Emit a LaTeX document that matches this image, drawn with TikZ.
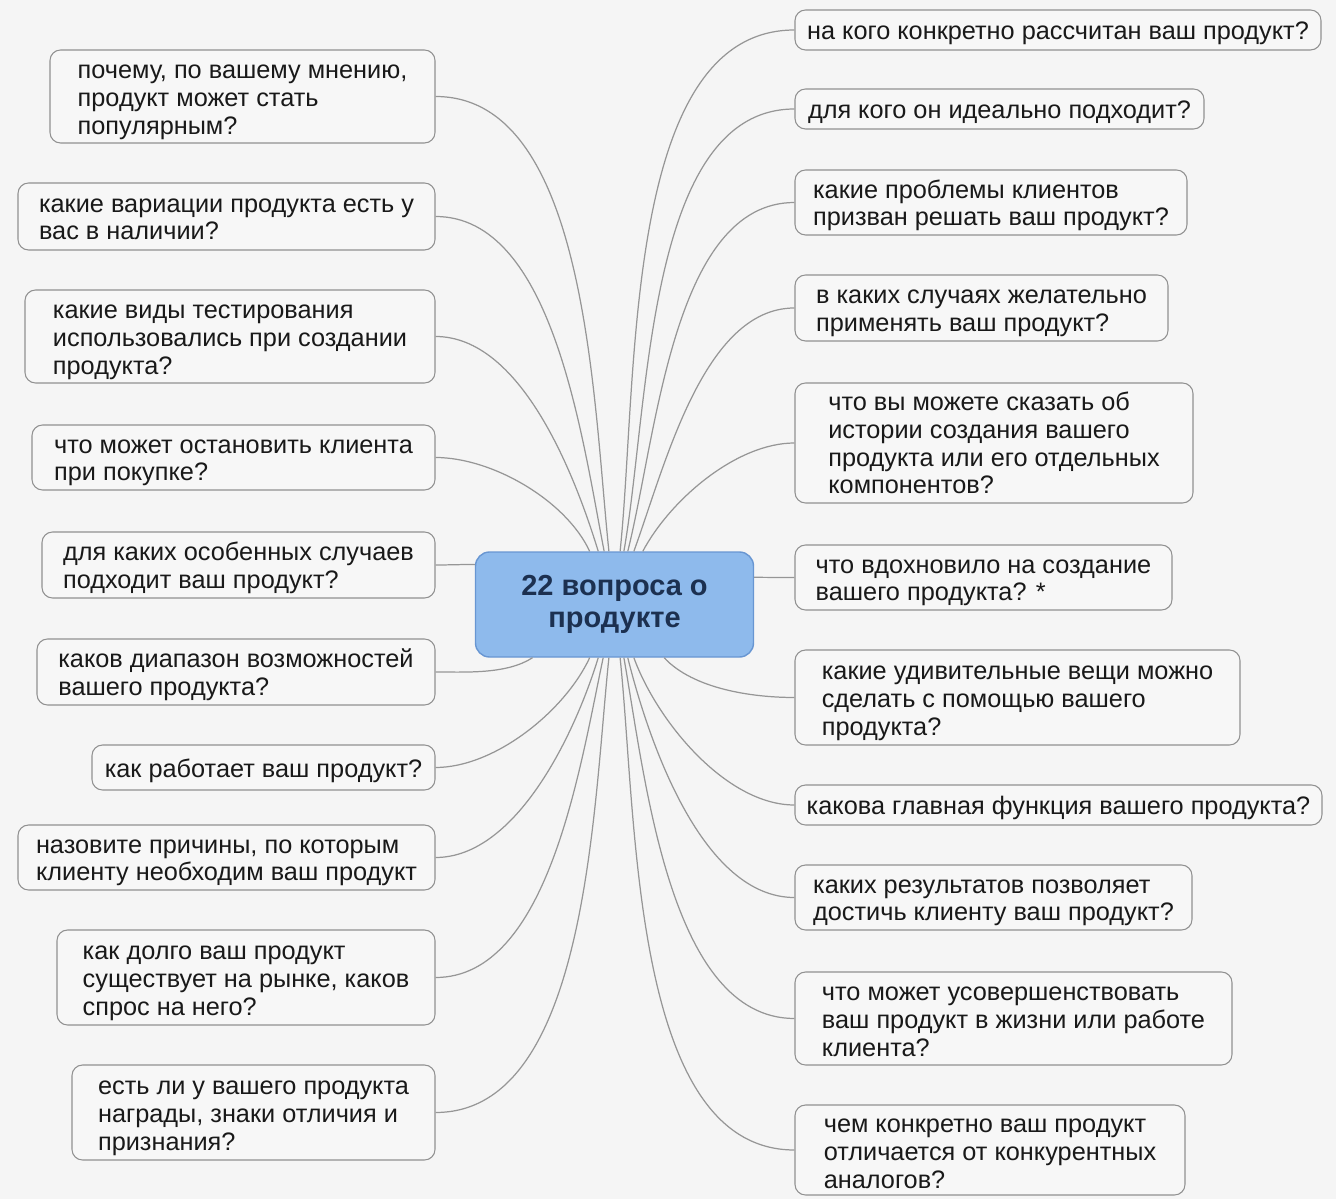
\documentclass[tikz,border=0pt]{standalone}
\usepackage{fontspec}
\setmainfont{Liberation Sans}

\definecolor{achter}{RGB}{245,245,245}
\definecolor{vakgrijs}{RGB}{247,247,247}
\definecolor{randgrijs}{RGB}{145,145,145}
\definecolor{lijngrijs}{RGB}{150,150,150}
\definecolor{tekst}{RGB}{25,25,25}
\definecolor{kernblauw}{RGB}{142,186,236}
\definecolor{kernrand}{RGB}{104,150,210}
\definecolor{kerntekst}{RGB}{28,48,80}

\begin{document}
\begin{tikzpicture}[x = 0.02cm, y = 0.02cm,
	vraag/.style = {draw = randgrijs, fill = vakgrijs, line width = 0.6pt, rounded corners = 6pt, inner sep = 0pt, align = left, text depth = 3.5pt, text = tekst, font = \fontsize{14.4}{15.9}\selectfont},
	een/.style = {text height = 14.8pt},
	twee/.style = {text height = 30.2pt},
	drie/.style = {text height = 47pt},
	vier/.style = {text height = 61.5pt},
	vak/.style 2 args = {minimum width = #1*0.02cm, minimum height = #2*0.02cm},
	kern/.style = {draw = kernrand, fill = kernblauw, line width = 0.8pt, rounded corners = 8pt, align = center, text = kerntekst, font = \fontsize{16.5}{18.5}\selectfont\bfseries},
	lijn/.style = {draw = lijngrijs, line width = 0.7pt, looseness = 0.8}]
				%	achtergrond
				\fill[achter] (0, 0) rectangle (1336, -1199);
				
				%	midden
				\node[kern, vak = {278}{105}] (mid) at (614.5, -604.5) {22 вопроса о\\продукте};
				
				%	links
				\node[vraag, drie, vak = {385}{93}] (l1) at (242.5, -96.5) {почему, по вашему мнению,\\продукт может стать\\популярным?};
				\node[vraag, twee, vak = {417}{67}] (l2) at (226.5, -216.5) {какие вариации продукта есть у\\вас в наличии?};
				\node[vraag, drie, vak = {410}{93}] (l3) at (230, -336.5) {какие виды тестирования\\использовались при создании\\продукта?};
				\node[vraag, twee, vak = {403}{65}] (l4) at (233.5, -457.5) {что может остановить клиента\\при покупке?};
				\node[vraag, twee, vak = {393}{66}] (l5) at (238.5, -565) {для каких особенных случаев\\подходит ваш продукт?};
				\node[vraag, twee, vak = {398}{66}] (l6) at (236, -672) {каков диапазон возможностей\\вашего продукта?};
				\node[vraag, een, vak = {343}{45}] (l7) at (263.5, -767.5) {как работает ваш продукт?};
				\node[vraag, twee, vak = {417}{65}] (l8) at (226.5, -857.5) {назовите причины, по которым\\клиенту необходим ваш продукт};
				\node[vraag, drie, vak = {378}{95}] (l9) at (246, -977.5) {как долго ваш продукт\\существует на рынке, каков\\спрос на него?};
				\node[vraag, drie, vak = {363}{95}] (l10) at (253.5, -1112.5) {есть ли у вашего продукта\\награды, знаки отличия и\\признания?};
				
				%	rechts
				\node[vraag, een, vak = {526}{40}] (r1) at (1058, -30) {на кого конкретно рассчитан ваш продукт?};
				\node[vraag, een, vak = {409}{40}] (r2) at (999.5, -109) {для кого он идеально подходит?};
				\node[vraag, twee, vak = {392}{65}] (r3) at (991, -202.5) {какие проблемы клиентов\\призван решать ваш продукт?};
				\node[vraag, twee, vak = {373}{66}] (r4) at (981.5, -308) {в каких случаях желательно\\применять ваш продукт?};
				\node[vraag, vier, vak = {398}{120}] (r5) at (994, -443) {что вы можете сказать об\\истории создания вашего\\продукта или его отдельных\\компонентов?};
				\node[vraag, twee, vak = {377}{65}] (r6) at (983.5, -577.5) {что вдохновило на создание\\вашего продукта? *};
				\node[vraag, drie, vak = {445}{95}] (r7) at (1017.5, -697.5) {какие удивительные вещи можно\\сделать с помощью вашего\\продукта?};
				\node[vraag, een, vak = {527}{40}] (r8) at (1058.5, -805) {какова главная функция вашего продукта?};
				\node[vraag, twee, vak = {397}{65}] (r9) at (993.5, -897.5) {каких результатов позволяет\\достичь клиенту ваш продукт?};
				\node[vraag, drie, vak = {437}{93}] (r10) at (1013.5, -1018.5) {что может усовершенствовать\\ваш продукт в жизни или работе\\клиента?};
				\node[vraag, drie, vak = {390}{90}] (r11) at (990, -1150) {чем конкретно ваш продукт\\отличается от конкурентных\\аналогов?};
				
				%	lijnen links
				\draw[lijn] (l1.east) to[out = 0, in = 96] (mid.96);
				\draw[lijn] (l2.east) to[out = 0, in = 101] (mid.101);
				\draw[lijn] (l3.east) to[out = 0, in = 107] (mid.107);
				\draw[lijn] (l4.east) to[out = 0, in = 115] (mid.115);
				\draw[lijn] (l5.east) to[out = 0, in = 180] (mid.164);
				\draw[lijn] (l6.east) to[out = 0, in = -147] (mid.-147);
				\draw[lijn] (l7.east) to[out = 0, in = -115] (mid.-115);
				\draw[lijn] (l8.east) to[out = 0, in = -107] (mid.-107);
				\draw[lijn] (l9.east) to[out = 0, in = -102] (mid.-102);
				\draw[lijn] (l10.east) to[out = 0, in = -96] (mid.-96);
				
				%	lijnen rechts
				\draw[lijn] (r1.west) to[out = 180, in = 84] (mid.84);
				\draw[lijn] (r2.west) to[out = 180, in = 80] (mid.80);
				\draw[lijn] (r3.west) to[out = 180, in = 76] (mid.76);
				\draw[lijn] (r4.west) to[out = 180, in = 70] (mid.70);
				\draw[lijn] (r5.west) to[out = 180, in = 62] (mid.62);
				\draw[lijn] (r6.west) to[out = 180, in = 0] (mid.11);
				\draw[lijn] (r7.west) to[out = 180, in = -47] (mid.-47);
				\draw[lijn] (r8.west) to[out = 180, in = -70] (mid.-70);
				\draw[lijn] (r9.west) to[out = 180, in = -76] (mid.-76);
				\draw[lijn] (r10.west) to[out = 180, in = -80] (mid.-80);
				\draw[lijn] (r11.west) to[out = 180, in = -84] (mid.-84);
\end{tikzpicture}
\end{document}
